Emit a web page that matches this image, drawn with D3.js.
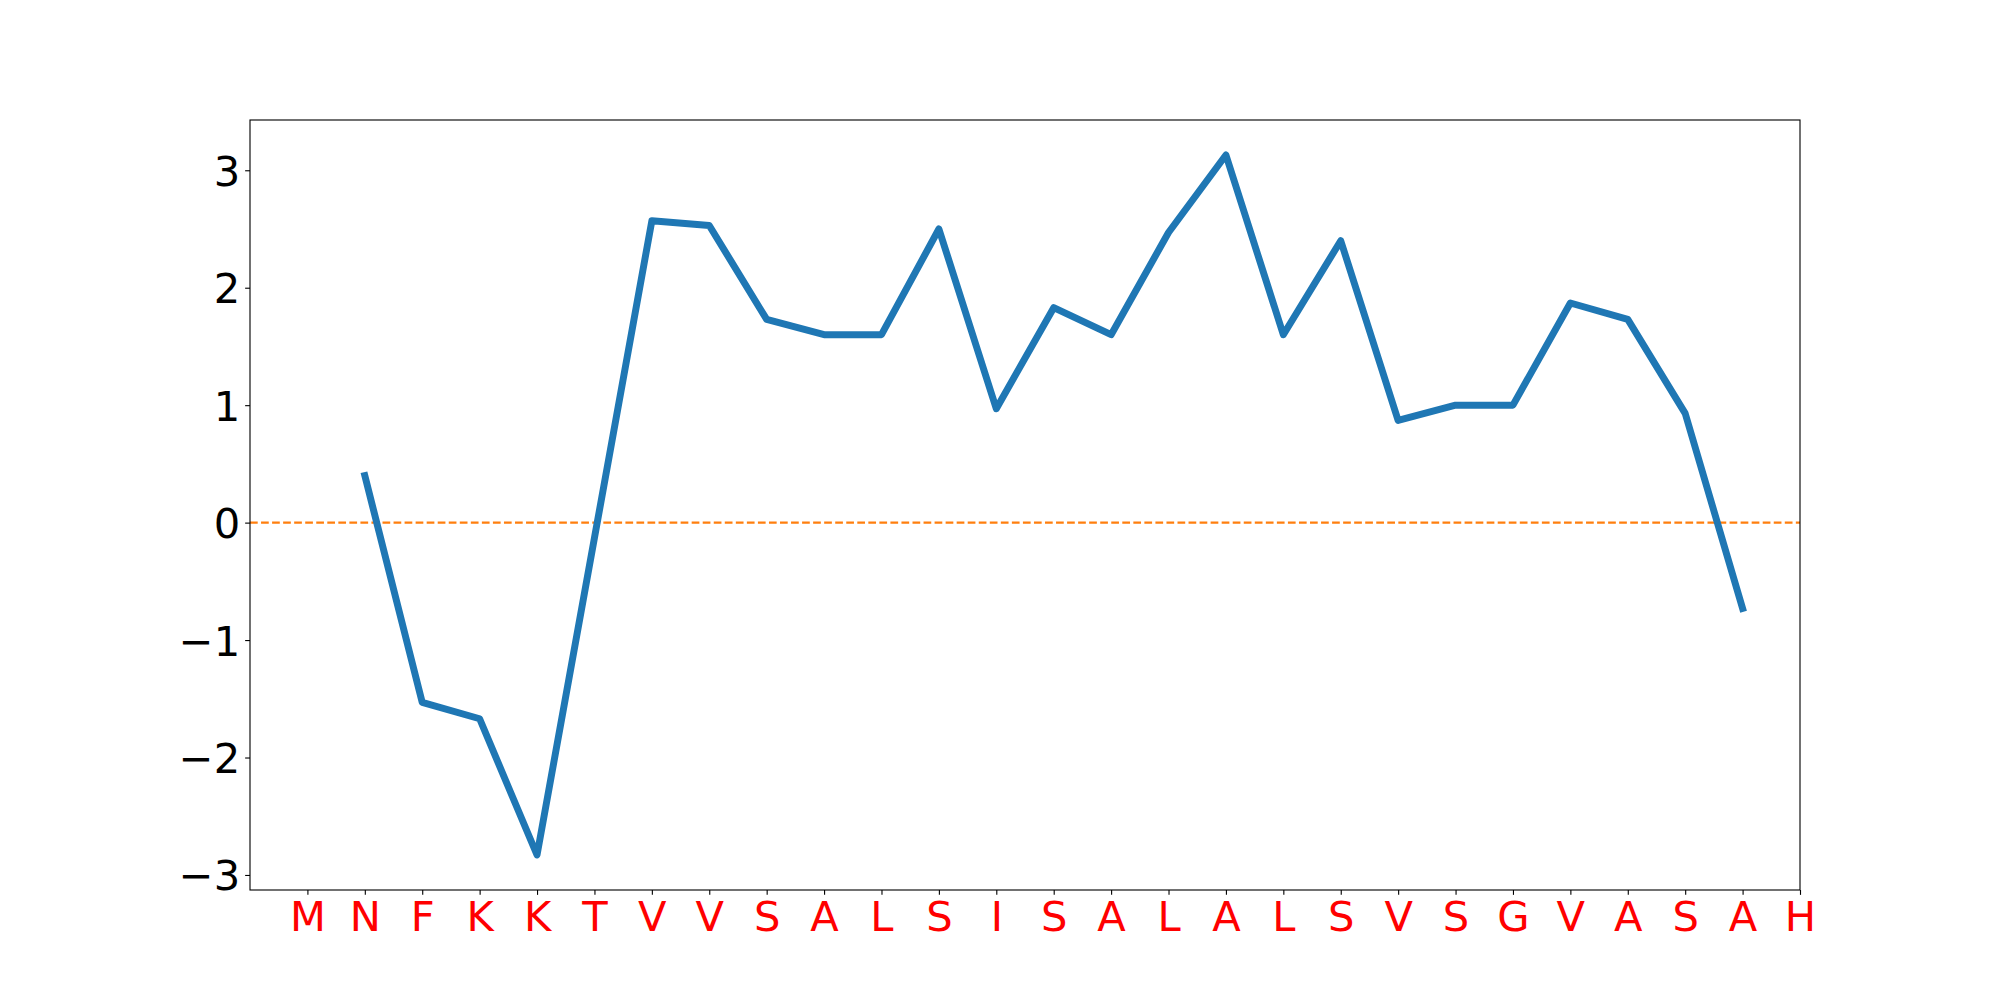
<!DOCTYPE html>
<html>
<head>
<meta charset="utf-8">
<script src="https://cdn.jsdelivr.net/npm/d3@7"></script>
<style>
  html, body { margin: 0; padding: 0; background: #fff; }
  svg { display: block; }
  text { font-family: "DejaVu Sans", sans-serif; }
</style>
</head>
<body>
<svg id="chart" width="2000" height="1000"></svg>
<script>
// Residue labels on the x axis (positions 0..26)
const residues = ["M","N","F","K","K","T","V","V","S","A","L","S","I","S","A","L","A","L","S","V","S","G","V","A","S","A","H"];
// Profile positions (x) and values (y)
const positions = [1,2,3,4,5,6,7,8,9,10,11,12,13,14,15,16,17,18,19,20,21,22,23,24,25];
const values = [0.40, -1.53, -1.67, -2.83, -0.13, 2.57, 2.53, 1.73, 1.60, 1.60, 2.50, 0.97, 1.83, 1.60, 2.47, 3.13, 1.60, 2.40, 0.87, 1.00, 1.00, 1.87, 1.73, 0.93, -0.73];
const yTicks = [-3, -2, -1, 0, 1, 2, 3];
const baseline = 0;

(function () {
  const mLeft = 250, mRight = 1800, mTop = 120, mBottom = 890;
  const pxPerPt = 100 / 72;

  const svg = d3.select("#chart");

  const x = d3.scaleLinear().domain([-1, 26]).range([mLeft, mRight]);
  const ymin = d3.min(values), ymax = d3.max(values);
  const pad = (ymax - ymin) * 0.05;
  const y = d3.scaleLinear().domain([ymin - pad, ymax + pad]).range([mBottom, mTop]);

  // baseline dashed line (axhline)
  svg.append("line")
    .attr("x1", mLeft).attr("x2", mRight)
    .attr("y1", y(baseline)).attr("y2", y(baseline))
    .attr("stroke", "#ff7f0e")
    .attr("stroke-width", 1.5 * pxPerPt)
    .attr("stroke-dasharray", `${3.7 * 1.5 * pxPerPt},${1.6 * 1.5 * pxPerPt}`);

  // data line
  const pts = positions.map((p, i) => [p, values[i]]);
  svg.append("path")
    .datum(pts)
    .attr("d", d3.line().x(d => x(d[0])).y(d => y(d[1])))
    .attr("fill", "none")
    .attr("stroke", "#1f77b4")
    .attr("stroke-width", 5 * pxPerPt)
    .attr("stroke-linecap", "square")
    .attr("stroke-linejoin", "round");

  // frame
  svg.append("rect")
    .attr("x", mLeft).attr("y", mTop)
    .attr("width", mRight - mLeft).attr("height", mBottom - mTop)
    .attr("fill", "none")
    .attr("stroke", "#000")
    .attr("stroke-width", 0.8 * pxPerPt);

  const tickLen = 3.5 * pxPerPt;
  const fs = 30 * pxPerPt;

  // y axis
  const yAxis = svg.append("g").attr("transform", `translate(${mLeft},0)`)
    .call(d3.axisLeft(y).tickValues(yTicks).tickSize(tickLen).tickPadding(3.5 * pxPerPt)
          .tickFormat(d => d < 0 ? "\u2212" + Math.abs(d) : String(d)));
  yAxis.select(".domain").remove();
  yAxis.selectAll(".tick line").attr("stroke", "#000").attr("stroke-width", 0.8 * pxPerPt);
  yAxis.selectAll(".tick text")
    .attr("font-size", fs)
    .attr("font-family", "DejaVu Sans, sans-serif")
    .attr("fill", "#000")
    .attr("dy", "0.36em");

  // x axis
  const xAxis = svg.append("g").attr("transform", `translate(0,${mBottom})`)
    .call(d3.axisBottom(x).tickValues(d3.range(residues.length)).tickSize(tickLen).tickPadding(3.5 * pxPerPt)
          .tickFormat(i => residues[i]));
  xAxis.select(".domain").remove();
  xAxis.selectAll(".tick line").attr("stroke", "#000").attr("stroke-width", 0.8 * pxPerPt);
  xAxis.selectAll(".tick text")
    .attr("font-size", fs)
    .attr("font-family", "DejaVu Sans, sans-serif")
    .attr("fill", "red")
    .attr("dy", "0.75em");
})();
</script>
</body>
</html>
